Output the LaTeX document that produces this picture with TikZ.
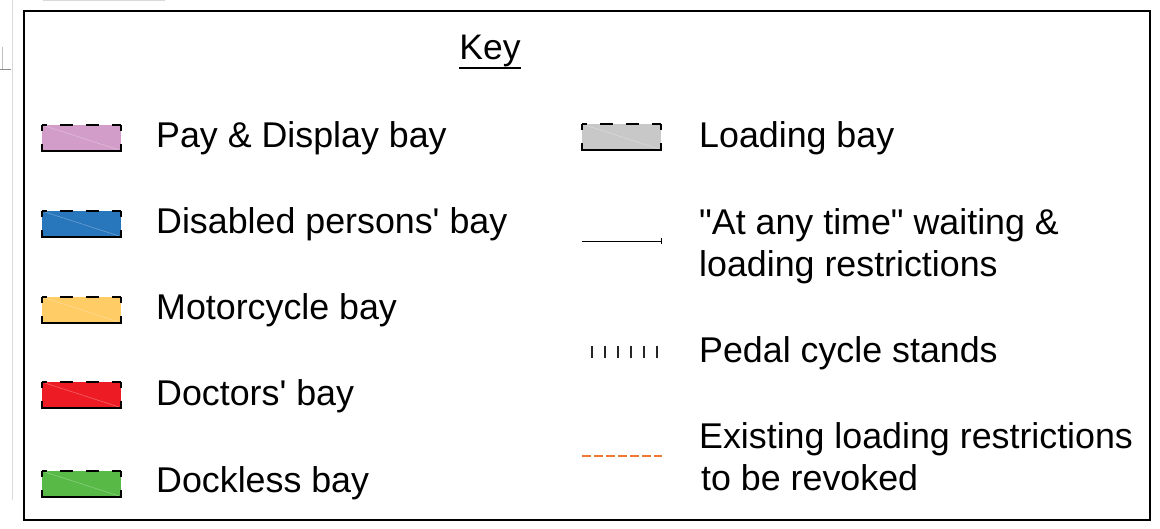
\documentclass[tikz,border=0pt]{standalone}
\usepackage{fontspec}
\setmainfont{Liberation Sans}
\definecolor{pinkbay}{RGB}{210,157,200}
\definecolor{bluebay}{RGB}{40,118,188}
\definecolor{yellowbay}{RGB}{255,204,102}
\definecolor{redbay}{RGB}{237,28,36}
\definecolor{greenbay}{RGB}{88,185,71}
\definecolor{graybay}{RGB}{200,200,200}
\definecolor{revoke}{RGB}{240,120,50}
\tikzset{
  lbl/.style={anchor=base west,inner sep=0pt,font=\fontsize{35.8}{42}\selectfont},
  bayedge/.style={line width=2pt,black},
  topdash/.style={bayedge,dash pattern=on 13pt off 13pt,dash phase=8pt},
  sidedash/.style={bayedge,dash pattern=on 6pt off 13pt},
  frameline/.style={line width=2pt,black},
  artifact/.style={line width=1pt,black!15},
}
\newcommand\baysw[3]{%
  \begin{scope}[shift={(#1,#2)}]
    \fill[#3] (0,0) rectangle (79,26);
    \draw[white,opacity=0.3,line width=0.6pt] (3,1) -- (77,25);
    \draw[topdash] (0,0) -- (79,0);
    \draw[sidedash] (0,0) -- (0,26);
    \draw[sidedash] (79,0) -- (79,26);
    \draw[bayedge] (-1,26) -- (80,26);
  \end{scope}}
\begin{document}
\begin{tikzpicture}[x=1pt,y=-1pt]
\useasboundingbox (0,0) rectangle (1160,528);
% faint map remnants at the left edge
\draw[artifact] (43,0.5) -- (165,0.5);
\draw[artifact] (12,0) -- (12,500);
\draw[line width=1pt,black!45] (0,69) -- (11,69);
\draw[line width=0.8pt,black!25] (2,47) -- (2,69);
% frame
\draw[frameline] (24,11) rectangle (1150,520);
% title
\node[anchor=base,inner sep=0pt,font=\fontsize{35.5}{42}\selectfont] (key) at (490,59) {Key};
\draw[line width=2pt] (key.south west |- 0,68) coordinate (ul1) -- (key.south east |- 0,68) coordinate (ul2);
% left column swatches
\baysw{42}{125}{pinkbay}
\baysw{42}{211}{bluebay}
\baysw{42}{297}{yellowbay}
\baysw{42}{382}{redbay}
\baysw{42}{471}{greenbay}
% left column labels
\node[lbl] (pd) at (156,147) {Pay \& Display bay};
\node[lbl] (dp) at (156,233) {Disabled persons\textquotesingle{} bay};
\node[lbl] (mc) at (156,319) {Motorcycle bay};
\node[lbl] (dr) at (156,405) {Doctors\textquotesingle{} bay};
\node[lbl] (dl) at (156,492) {Dockless bay};
% right column symbols
\baysw{582}{124}{graybay}
\coordinate (aat1) at (582,241);
\coordinate (aat2) at (661,241);
\draw[line width=1pt] (aat1) -- (aat2);
\draw[line width=1pt] (661,238) -- (661,244);
\foreach \xx in {592,605,618,631,644,657}
  \draw[line width=2pt,black!85] (\xx,346) -- (\xx,358);
\coordinate (rv1) at (582,456);
\coordinate (rv2) at (662,456);
\draw[revoke,line width=1.5pt,dash pattern=on 9pt off 3pt] (rv1) -- (rv2);
% right column labels
\node[lbl] (lb) at (699,147) {Loading bay};
\node[lbl] (at1) at (699,234) {\textquotedbl At any time\textquotedbl{} waiting \&};
\node[lbl] (at2) at (699,276) {loading restrictions};
\node[lbl] (pc) at (699,362) {Pedal cycle stands};
\node[lbl] (ex1) at (699,448) {Existing loading restrictions};
\node[lbl] (ex2) at (701,490) {to be revoked};
\end{tikzpicture}
\end{document}
